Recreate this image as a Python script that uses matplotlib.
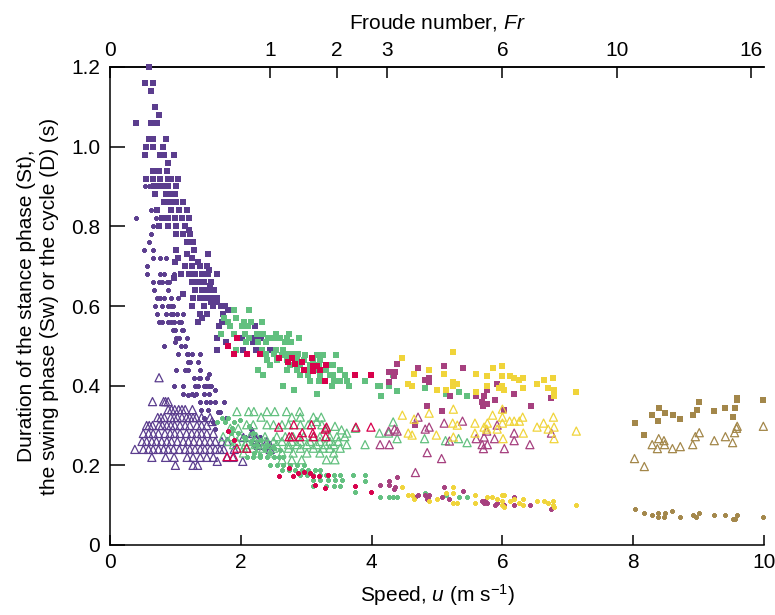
import numpy as np
import matplotlib
matplotlib.use("Agg")
import matplotlib.pyplot as plt

plt.rcParams['font.family'] = ['Liberation Sans', 'DejaVu Sans']
plt.rcParams['mathtext.fontset'] = 'custom'
plt.rcParams['mathtext.rm'] = 'Liberation Sans'
plt.rcParams['mathtext.it'] = 'Liberation Sans:italic'

# --- data: (speed u [m/s], duration [s]) ---
# D = cycle (filled squares), Sw = swing (open triangles), St = stance (small crosses)

purple_D = [
    (0.59, 1.20), (0.53, 1.16), (0.66, 1.16), (0.62, 1.14), (0.69, 1.10), (0.75, 1.08),
    (0.39, 1.06), (0.62, 1.06), (0.72, 1.06), (0.60, 1.02), (0.66, 1.02), (0.85, 1.02),
    (0.55, 1.00), (0.66, 1.00), (0.81, 1.00), (0.53, 0.98), (0.77, 0.98), (0.83, 0.98),
    (0.98, 0.98), (0.89, 0.96), (0.65, 0.94), (0.75, 0.94), (0.87, 0.94),
    (0.55, 0.92), (0.66, 0.92), (0.77, 0.92), (0.88, 0.92), (0.94, 0.92), (1.04, 0.92),
    (0.67, 0.90), (0.77, 0.90), (0.82, 0.90), (0.89, 0.90), (1.01, 0.90),
    (0.69, 0.88), (0.86, 0.88), (0.93, 0.88), (1.00, 0.88),
    (0.82, 0.86), (0.91, 0.86), (1.01, 0.86), (1.12, 0.86),
    (0.72, 0.84), (0.94, 0.84), (1.05, 0.84), (1.17, 0.84),
    (0.80, 0.82), (0.89, 0.82), (0.99, 0.82), (1.10, 0.82), (1.21, 0.82),
    (0.75, 0.80), (0.88, 0.80), (1.01, 0.80), (1.14, 0.80), (1.21, 0.79),
    (1.01, 0.78), (1.12, 0.78), (1.22, 0.78), (1.17, 0.76), (1.27, 0.76),
    (1.01, 0.74), (1.17, 0.73), (1.29, 0.74), (1.50, 0.73),
    (1.04, 0.72), (1.26, 0.72), (1.35, 0.71), (1.00, 0.71),
    (1.15, 0.70), (1.26, 0.70), (1.37, 0.70), (1.48, 0.70), (1.52, 0.69),
    (1.08, 0.68), (1.21, 0.68), (1.30, 0.68), (1.40, 0.68), (1.50, 0.68), (1.63, 0.68),
    (0.98, 0.67), (1.26, 0.66), (1.35, 0.66), (1.44, 0.66), (1.55, 0.66), (1.53, 0.65),
    (1.30, 0.64), (1.40, 0.64), (1.50, 0.64), (1.59, 0.64),
    (1.12, 0.63), (1.27, 0.62), (1.37, 0.62), (1.47, 0.62), (1.54, 0.62), (1.63, 0.62),
    (1.64, 0.61), (1.54, 0.61),
    (1.26, 0.60), (1.43, 0.60), (1.58, 0.60), (1.70, 0.60), (1.76, 0.60),
    (1.38, 0.58), (1.48, 0.58), (1.80, 0.59), (1.40, 0.57), (1.73, 0.58),
    (1.35, 0.56), (1.71, 0.56), (1.66, 0.55), (2.21, 0.55),
    (1.64, 0.52), (2.02, 0.52), (2.22, 0.52), (2.31, 0.52), (2.44, 0.52),
    (1.78, 0.51), (2.18, 0.51),
    (1.63, 0.49), (2.04, 0.49), (2.24, 0.49), (2.44, 0.49),
]

purple_St = [
    (0.53, 0.90), (0.60, 0.90), (0.64, 0.90), (0.62, 0.84), (0.39, 0.82), (0.71, 0.82),
    (0.65, 0.80), (0.62, 0.78), (0.60, 0.76), (0.52, 0.74), (0.65, 0.74),
    (0.65, 0.72), (0.77, 0.72), (0.85, 0.72), (0.56, 0.70),
    (0.56, 0.68), (0.77, 0.68), (0.82, 0.68), (0.98, 0.68),
    (0.66, 0.66), (0.75, 0.66), (0.79, 0.66), (0.87, 0.66), (0.90, 0.66),
    (0.68, 0.64), (0.88, 0.64),
    (0.72, 0.62), (0.77, 0.62), (0.82, 0.62), (0.93, 0.62), (1.04, 0.62),
    (0.69, 0.60), (0.79, 0.60), (0.89, 0.60), (0.93, 0.60), (0.97, 0.60),
    (0.72, 0.58), (0.86, 0.58), (0.93, 0.58), (0.97, 0.58), (1.03, 0.58), (1.12, 0.58),
    (0.75, 0.56), (0.80, 0.56), (0.89, 0.56), (0.93, 0.56), (0.98, 0.56), (1.06, 0.56),
    (1.08, 0.56),
    (0.97, 0.54), (1.00, 0.54), (1.10, 0.54), (1.12, 0.54),
    (1.01, 0.52), (1.06, 0.52), (1.17, 0.52),
    (0.82, 0.50), (1.00, 0.51), (1.09, 0.50), (1.15, 0.50),
    (1.04, 0.48), (1.17, 0.48), (1.20, 0.48), (1.26, 0.48), (1.37, 0.48),
    (1.19, 0.46), (1.22, 0.46), (1.34, 0.46),
    (1.01, 0.44), (1.15, 0.44), (1.20, 0.44), (1.37, 0.44),
    (1.28, 0.42), (1.36, 0.42), (1.38, 0.42), (1.49, 0.42), (1.51, 0.43),
    (0.98, 0.40), (1.12, 0.40), (1.30, 0.40), (1.35, 0.40), (1.43, 0.40), (1.47, 0.40),
    (1.51, 0.40), (1.55, 0.40),
    (1.11, 0.38), (1.26, 0.38), (1.32, 0.38), (1.44, 0.38), (1.51, 0.38), (1.61, 0.39),
    (1.19, 0.376), (1.28, 0.376),
    (1.38, 0.36), (1.47, 0.36), (1.53, 0.36), (1.61, 0.36), (1.75, 0.36),
    (1.39, 0.34), (1.50, 0.34), (1.65, 0.335), (1.68, 0.335),
    (1.43, 0.32), (1.77, 0.32), (1.58, 0.31), (1.61, 0.29),
    (2.06, 0.27), (2.15, 0.29), (2.30, 0.27), (2.20, 0.25),
]

purple_Sw = [
    (0.75, 0.42),
    (0.65, 0.36), (0.82, 0.36), (0.85, 0.36), (0.89, 0.36),
    (0.89, 0.34), (0.94, 0.34), (0.99, 0.34), (1.05, 0.34), (1.10, 0.34), (1.15, 0.34),
    (1.26, 0.34),
    (0.73, 0.32), (0.78, 0.32), (0.83, 0.32), (0.93, 0.32), (0.98, 0.32), (1.03, 0.32),
    (1.10, 0.32), (1.17, 0.32), (1.22, 0.32), (1.27, 0.32), (1.32, 0.32), (1.40, 0.32),
    (1.53, 0.32),
    (0.56, 0.30), (0.60, 0.30), (0.65, 0.30), (0.75, 0.30), (0.80, 0.30), (0.87, 0.30),
    (0.93, 0.30), (0.99, 0.30), (1.07, 0.30), (1.15, 0.30), (1.22, 0.30), (1.33, 0.30),
    (1.40, 0.30), (1.48, 0.30), (1.56, 0.31),
    (0.51, 0.28), (0.59, 0.28), (0.66, 0.28), (0.74, 0.28), (0.84, 0.28), (0.92, 0.28),
    (0.99, 0.28), (1.07, 0.28), (1.17, 0.28), (1.25, 0.28), (1.33, 0.28), (1.40, 0.28),
    (1.48, 0.28), (1.58, 0.28),
    (0.49, 0.26), (0.56, 0.26), (0.64, 0.26), (0.71, 0.26), (0.79, 0.26), (0.87, 0.26),
    (0.94, 0.26), (1.03, 0.26), (1.12, 0.26), (1.20, 0.26), (1.28, 0.26), (1.37, 0.26),
    (1.45, 0.26), (1.53, 0.26), (1.61, 0.26), (1.71, 0.26), (1.79, 0.26),
    (0.38, 0.24), (0.51, 0.24), (0.59, 0.24), (0.66, 0.24), (0.74, 0.24), (0.82, 0.24),
    (0.89, 0.24), (0.97, 0.24), (1.06, 0.24), (1.15, 0.24), (1.22, 0.24), (1.30, 0.24),
    (1.38, 0.24), (1.45, 0.24), (1.53, 0.24), (1.61, 0.24), (1.68, 0.24), (1.74, 0.24),
    (1.90, 0.24),
    (0.64, 0.22), (0.85, 0.22), (0.98, 0.22), (1.18, 0.22), (1.27, 0.22), (1.38, 0.22),
    (1.48, 0.22), (1.58, 0.22), (1.79, 0.22), (1.88, 0.22), (1.64, 0.21), (2.03, 0.21),
    (1.00, 0.20), (1.27, 0.20), (1.34, 0.20),
    (2.04, 0.27), (2.17, 0.28), (2.22, 0.27), (2.29, 0.26), (2.40, 0.26), (2.19, 0.28),
    (2.45, 0.25), (2.27, 0.25), (2.45, 0.24),
]

green_D = [
    (1.89, 0.59), (2.13, 0.59), (1.75, 0.57), (1.93, 0.57), (1.80, 0.56), (2.05, 0.56),
    (2.15, 0.56), (2.33, 0.56), (1.84, 0.55), (2.02, 0.55), (2.11, 0.55),
    (1.69, 0.53), (1.89, 0.53), (2.07, 0.53), (2.25, 0.53), (2.34, 0.53), (2.54, 0.53),
    (2.74, 0.53),
    (2.12, 0.52), (2.41, 0.52), (2.50, 0.52), (2.60, 0.52), (2.70, 0.52), (2.89, 0.52),
    (2.08, 0.51), (2.27, 0.51), (2.38, 0.51), (2.67, 0.51), (2.77, 0.51),
    (1.93, 0.49), (2.33, 0.49), (2.54, 0.49), (2.64, 0.49),
    (2.38, 0.48), (2.50, 0.48), (2.71, 0.48), (2.80, 0.48), (2.88, 0.48),
    (2.63, 0.477), (2.98, 0.477), (3.16, 0.477), (3.26, 0.477), (3.45, 0.477),
    (2.40, 0.464), (2.56, 0.464), (2.70, 0.464), (2.86, 0.464), (2.96, 0.464),
    (3.11, 0.464), (3.21, 0.464),
    (2.45, 0.453), (2.75, 0.453), (2.91, 0.453), (3.06, 0.453), (3.19, 0.453),
    (3.36, 0.453), (3.41, 0.453),
    (2.27, 0.44), (2.70, 0.44), (2.86, 0.44), (3.01, 0.44), (3.16, 0.44), (3.31, 0.44),
    (3.52, 0.44),
    (2.34, 0.428), (2.91, 0.428), (3.03, 0.428), (3.21, 0.428), (3.36, 0.428),
    (3.41, 0.428), (3.59, 0.428),
    (3.06, 0.411), (3.19, 0.411), (3.42, 0.411), (3.52, 0.411), (3.62, 0.411),
    (3.90, 0.411),
    (2.64, 0.40), (3.39, 0.40), (3.65, 0.40), (4.10, 0.40), (2.81, 0.39), (3.16, 0.38),
    (4.13, 0.40), (4.26, 0.40), (4.33, 0.426), (4.15, 0.374), (4.39, 0.387),
    (4.81, 0.394), (5.13, 0.379), (5.33, 0.384), (5.46, 0.374),
]

green_Sw = [
    (1.94, 0.335), (2.12, 0.335), (2.20, 0.335), (2.40, 0.335), (2.52, 0.335),
    (2.70, 0.335), (2.90, 0.335),
    (2.31, 0.321), (2.78, 0.321), (2.91, 0.321), (3.11, 0.321), (3.23, 0.321),
    (1.84, 0.293), (1.96, 0.293), (2.09, 0.302), (2.19, 0.302), (2.40, 0.302),
    (2.50, 0.302), (2.63, 0.302), (2.73, 0.302), (2.91, 0.302), (3.03, 0.302),
    (3.16, 0.31), (3.24, 0.302), (3.31, 0.293), (3.44, 0.298), (3.54, 0.289),
    (3.62, 0.281), (3.75, 0.293),
    (1.73, 0.272), (1.86, 0.272), (1.99, 0.272), (2.14, 0.272), (2.24, 0.272),
    (2.37, 0.272), (2.55, 0.272), (2.68, 0.272), (2.80, 0.272), (2.96, 0.272),
    (3.11, 0.272), (3.21, 0.272), (3.36, 0.272), (3.47, 0.272), (3.59, 0.272),
    (1.81, 0.26), (1.94, 0.26), (2.09, 0.26), (2.22, 0.26), (2.37, 0.26), (2.50, 0.26),
    (2.63, 0.26), (2.78, 0.26), (2.91, 0.26), (3.06, 0.26), (3.21, 0.26), (3.36, 0.26),
    (3.49, 0.26),
    (1.89, 0.252), (2.07, 0.252), (2.24, 0.252), (2.40, 0.252), (2.55, 0.252),
    (2.73, 0.252), (2.86, 0.252), (3.01, 0.252), (3.16, 0.252), (3.29, 0.252),
    (3.42, 0.252), (3.62, 0.252), (3.90, 0.252),
    (2.04, 0.243), (2.19, 0.243), (2.34, 0.243), (2.50, 0.243), (2.73, 0.243),
    (2.91, 0.243), (3.11, 0.243), (3.26, 0.243), (3.36, 0.243), (3.52, 0.243),
    (2.04, 0.231), (2.24, 0.231), (2.45, 0.231), (2.63, 0.231), (2.80, 0.231),
    (3.01, 0.231), (3.21, 0.231), (3.42, 0.231),
    (2.63, 0.214), (2.78, 0.214), (2.93, 0.214), (3.31, 0.214), (3.44, 0.214),
    (4.12, 0.281), (4.26, 0.281), (4.33, 0.309), (4.39, 0.267), (4.81, 0.267),
    (5.13, 0.262), (5.33, 0.267), (5.46, 0.257),
]

green_St = [
    (1.63, 0.31), (1.72, 0.32), (1.76, 0.31), (1.80, 0.32), (1.89, 0.31), (1.86, 0.293),
    (1.85, 0.28), (1.99, 0.314), (1.95, 0.28), (2.05, 0.27), (2.12, 0.298), (2.15, 0.26),
    (2.19, 0.281), (2.25, 0.25), (2.29, 0.264), (2.35, 0.24), (2.40, 0.252),
    (2.50, 0.243), (2.60, 0.239), (2.20, 0.23), (2.30, 0.226), (2.45, 0.23),
    (2.09, 0.22), (2.19, 0.22), (2.29, 0.22), (2.40, 0.22), (2.50, 0.22), (2.58, 0.22),
    (2.65, 0.22),
    (2.45, 0.20), (2.55, 0.20), (2.65, 0.20), (2.75, 0.20), (2.86, 0.20), (2.96, 0.20),
    (2.63, 0.189), (2.73, 0.189), (2.83, 0.189), (2.93, 0.189), (3.03, 0.189),
    (3.14, 0.189), (3.21, 0.189),
    (2.91, 0.176), (3.01, 0.176), (3.11, 0.176), (3.21, 0.176), (3.31, 0.176),
    (3.42, 0.176), (3.52, 0.176), (3.72, 0.176), (3.90, 0.176),
    (3.11, 0.164), (3.21, 0.164), (3.34, 0.164), (3.44, 0.164), (3.54, 0.164),
    (3.11, 0.147), (3.31, 0.147), (3.42, 0.147), (3.52, 0.147), (3.75, 0.134),
    (3.90, 0.16), (4.13, 0.12), (4.26, 0.12), (4.33, 0.12), (4.39, 0.12), (4.81, 0.13),
    (5.13, 0.125), (5.33, 0.12), (5.46, 0.12),
]

crimson_D = [
    (1.94, 0.52), (1.81, 0.50), (1.89, 0.48), (2.09, 0.48), (2.30, 0.48), (2.58, 0.47),
    (2.78, 0.47), (2.72, 0.46), (2.83, 0.455), (2.94, 0.46), (3.09, 0.47), (3.10, 0.45),
    (3.16, 0.45), (3.11, 0.436), (2.96, 0.44), (3.21, 0.44), (3.31, 0.453),
    (3.29, 0.411), (3.75, 0.428), (3.99, 0.428),
]

crimson_Sw = [
    (2.58, 0.296), (2.74, 0.272), (2.78, 0.272), (2.81, 0.302), (2.94, 0.282),
    (3.08, 0.302), (3.10, 0.281), (3.29, 0.291), (3.30, 0.272), (3.31, 0.296),
    (3.76, 0.296), (3.99, 0.296), (2.90, 0.272), (3.11, 0.272), (2.09, 0.243),
    (1.89, 0.222), (1.79, 0.222), (1.94, 0.243),
]

crimson_St = [
    (2.58, 0.174), (2.73, 0.193), (2.80, 0.172), (2.88, 0.18), (2.96, 0.184),
    (3.06, 0.18), (3.11, 0.172), (3.14, 0.151), (3.19, 0.172), (3.29, 0.143),
    (3.34, 0.176), (3.75, 0.147), (1.89, 0.264), (1.81, 0.285), (3.99, 0.133),
]

magenta_D = [
    (4.39, 0.455), (4.26, 0.434), (4.36, 0.434), (4.35, 0.424), (4.27, 0.409),
    (4.71, 0.445), (5.11, 0.45), (5.39, 0.445), (4.82, 0.414), (4.88, 0.419),
    (4.88, 0.409), (5.92, 0.404), (5.77, 0.389), (5.20, 0.374), (5.60, 0.374),
    (5.72, 0.374), (6.18, 0.379), (5.89, 0.364), (5.69, 0.359), (5.77, 0.354),
    (5.71, 0.349), (6.03, 0.339), (6.43, 0.349), (6.75, 0.369), (4.85, 0.349),
    (5.07, 0.336), (4.67, 0.301),
]

magenta_Sw = [
    (4.71, 0.321), (5.11, 0.306), (5.39, 0.311), (4.88, 0.296), (4.82, 0.291),
    (4.35, 0.291), (4.39, 0.286), (4.26, 0.286), (4.27, 0.252), (4.13, 0.252),
    (4.85, 0.232), (5.07, 0.217), (4.67, 0.182), (5.19, 0.261), (5.60, 0.267),
    (5.72, 0.271), (5.69, 0.252), (5.77, 0.252), (5.71, 0.242), (5.76, 0.286),
    (5.88, 0.267), (5.92, 0.301), (6.03, 0.242), (6.18, 0.281), (6.18, 0.262),
    (6.42, 0.252), (6.75, 0.281),
]

magenta_St = [
    (4.39, 0.17), (4.27, 0.16), (4.26, 0.15), (4.13, 0.15), (4.35, 0.14), (4.36, 0.145),
    (4.71, 0.125), (4.67, 0.12), (4.82, 0.125), (4.87, 0.12), (4.88, 0.125),
    (4.84, 0.115), (5.07, 0.12), (5.11, 0.145), (5.19, 0.115), (5.39, 0.135),
    (5.69, 0.11), (5.72, 0.105), (5.77, 0.105), (5.74, 0.11), (5.88, 0.10),
    (5.92, 0.105), (6.03, 0.10), (6.18, 0.12), (6.18, 0.10), (6.42, 0.10), (6.75, 0.09),
]

yellow_D = [
    (4.47, 0.47), (5.25, 0.485), (4.65, 0.429), (4.88, 0.44), (5.11, 0.43), (5.59, 0.43),
    (5.85, 0.445), (6.00, 0.45), (5.77, 0.424), (6.00, 0.424), (6.12, 0.424),
    (6.18, 0.419), (6.26, 0.414), (6.31, 0.419), (4.56, 0.404), (4.62, 0.40),
    (5.25, 0.409), (5.31, 0.404), (5.25, 0.40), (5.00, 0.389), (5.13, 0.389),
    (5.59, 0.384), (5.76, 0.40), (5.95, 0.394), (6.00, 0.40), (6.03, 0.389),
    (6.32, 0.394), (6.53, 0.404), (6.63, 0.414), (6.78, 0.419), (6.70, 0.394),
    (6.79, 0.389), (6.79, 0.374), (7.13, 0.384),
]

yellow_Sw = [
    (4.47, 0.326), (4.65, 0.316), (4.88, 0.331), (4.56, 0.281), (4.62, 0.276),
    (4.99, 0.276), (5.25, 0.341), (5.24, 0.306), (5.31, 0.301), (5.25, 0.271),
    (5.58, 0.306), (5.58, 0.281), (5.72, 0.296), (5.77, 0.306), (5.76, 0.291),
    (5.85, 0.326), (6.00, 0.341), (6.00, 0.321), (6.00, 0.306), (5.92, 0.291),
    (6.01, 0.267), (6.11, 0.311), (6.18, 0.311), (6.26, 0.311), (6.31, 0.321),
    (6.32, 0.281), (6.53, 0.296), (6.63, 0.306), (6.70, 0.291), (6.78, 0.321),
    (6.79, 0.296), (6.79, 0.267), (7.13, 0.286),
]

yellow_St = [
    (4.47, 0.145), (4.56, 0.125), (4.62, 0.125), (4.65, 0.115), (4.88, 0.11),
    (5.00, 0.115), (5.13, 0.13), (5.25, 0.145), (5.25, 0.13), (5.25, 0.105),
    (5.31, 0.105), (5.58, 0.125), (5.58, 0.105), (5.76, 0.12), (5.84, 0.12),
    (5.92, 0.115), (6.00, 0.125), (6.03, 0.125), (6.00, 0.11), (6.00, 0.10),
    (6.03, 0.095), (6.11, 0.11), (6.18, 0.115), (6.26, 0.105), (6.31, 0.10),
    (6.32, 0.115), (6.53, 0.11), (6.63, 0.11), (6.70, 0.105), (6.78, 0.11),
    (6.78, 0.10), (6.79, 0.095), (7.13, 0.10),
]

brown_D = [
    (8.03, 0.306), (8.17, 0.276), (8.29, 0.326), (8.40, 0.344), (8.38, 0.311),
    (8.48, 0.331), (8.61, 0.326), (8.72, 0.316), (8.92, 0.326), (8.97, 0.339),
    (9.01, 0.359), (9.24, 0.336), (9.41, 0.344), (9.52, 0.321), (9.56, 0.344),
    (9.58, 0.369), (9.58, 0.364), (9.99, 0.364),
]

brown_Sw = [
    (8.02, 0.217), (8.17, 0.197), (8.29, 0.252), (8.37, 0.242), (8.39, 0.267),
    (8.47, 0.262), (8.48, 0.252), (8.60, 0.242), (8.72, 0.247), (8.91, 0.252),
    (8.95, 0.272), (9.01, 0.282), (9.24, 0.262), (9.41, 0.272), (9.52, 0.257),
    (9.55, 0.282), (9.58, 0.293), (9.59, 0.298), (9.99, 0.298),
]

brown_St = [
    (8.02, 0.09), (8.17, 0.08), (8.29, 0.075), (8.38, 0.08), (8.48, 0.08), (8.38, 0.07),
    (8.47, 0.07), (8.60, 0.085), (8.72, 0.07), (8.91, 0.075), (8.96, 0.07),
    (9.01, 0.08), (9.24, 0.075), (9.41, 0.075), (9.52, 0.065), (9.55, 0.065),
    (9.58, 0.075), (9.99, 0.07),
]

froude_ticks = [0, 1, 2, 3, 6, 10, 16]

colors = {
    'purple': '#5b3d8e',
    'green': '#62c07f',
    'crimson': '#d8004b',
    'magenta': '#a6407f',
    'yellow': '#f0d43a',
    'brown': '#a3874a',
}

groups = [
    ('purple', purple_D, purple_Sw, purple_St),
    ('green', green_D, green_Sw, green_St),
    ('crimson', crimson_D, crimson_Sw, crimson_St),
    ('magenta', magenta_D, magenta_Sw, magenta_St),
    ('yellow', yellow_D, yellow_Sw, yellow_St),
    ('brown', brown_D, brown_Sw, brown_St),
]

FS = 15

fig = plt.figure(figsize=(7.75, 6.15), dpi=100)
ax = fig.add_axes([110 / 775, 70 / 615, 654 / 775, 478 / 615])

for name, d_pts, sw_pts, st_pts in groups:
    c = colors[name]
    u, t = zip(*d_pts)
    ax.scatter(u, t, marker='s', s=18, color=c, linewidths=0, clip_on=False, zorder=3)
    u, t = zip(*sw_pts)
    ax.scatter(u, t, marker='^', s=34, facecolors='none', edgecolors=c,
               linewidths=0.9, clip_on=False, zorder=3)
    u, t = zip(*st_pts)
    ax.scatter(u, t, marker='P', s=9, facecolors=c, edgecolors=c, linewidths=0.7,
               clip_on=False, zorder=3)

ax.set_xlim(0, 10)
ax.set_ylim(0, 1.2)
ax.set_xticks([0, 2, 4, 6, 8, 10])
ax.set_yticks([0, 0.2, 0.4, 0.6, 0.8, 1.0, 1.2])
ax.set_yticklabels(['0', '0.2', '0.4', '0.6', '0.8', '1.0', '1.2'])
ax.spines['right'].set_visible(False)
for sp in ['left', 'bottom', 'top']:
    ax.spines[sp].set_linewidth(1.1)
ax.tick_params(axis='y', direction='in', length=11, width=1.1, labelsize=FS, pad=7)
ax.tick_params(axis='x', direction='in', length=7, width=1.1, labelsize=FS, pad=6,
               top=False)

ax.set_xlabel(r'Speed, $\mathit{u}$ (m s$^{\mathrm{-1}}$)', fontsize=FS, labelpad=7)
ax.set_ylabel('Duration of the stance phase (St),\nthe swing phase (Sw) or the cycle (D) (s)',
              fontsize=FS, labelpad=9, linespacing=1.25)

# top axis: Froude number, Fr = u^2 / (g * h)
sec = ax.secondary_xaxis('top', functions=(lambda u: np.asarray(u) ** 2 / 6.0,
                                           lambda fr: np.sqrt(np.clip(fr, 0, None) * 6.0)))
sec.set_xticks(froude_ticks)
sec.set_xticklabels([str(f) for f in froude_ticks])
sec.tick_params(direction='in', length=8, width=1.1, labelsize=FS, pad=5)
sec.spines['top'].set_linewidth(1.1)
sec.set_xlabel(r'Froude number, $\mathit{Fr}$', fontsize=FS, labelpad=9)

fig.savefig('out.png', dpi=100)
